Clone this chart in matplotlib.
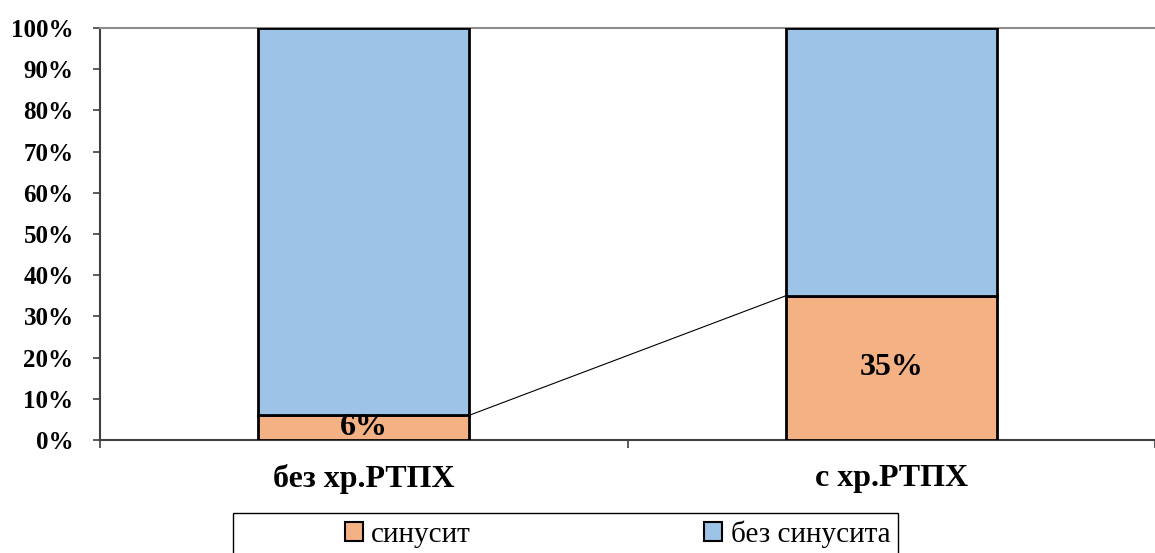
import matplotlib
matplotlib.use("Agg")
import matplotlib.pyplot as plt
from matplotlib.patches import Patch, Rectangle

categories = ["без хр.РТПХ", "с хр.РТПХ"]
series_names = ["синусит", "без синусита"]
sinusitis = [6, 35]
no_sinusitis = [94, 65]
y_tick_labels = ["0%", "10%", "20%", "30%", "40%", "50%", "60%", "70%", "80%", "90%", "100%"]

colors = ["#F4B183", "#9DC3E6"]
serif = "Liberation Serif"

W, H = 1155, 553
fig = plt.figure(figsize=(W / 100, H / 100), dpi=100)
ax = fig.add_axes([100 / W, 113 / H, 1055 / W, 412 / H])

x = list(range(len(categories)))
width = 0.4
ax.bar(x, sinusitis, width, color=colors[0], edgecolor="black", linewidth=2, zorder=3)
ax.bar(x, no_sinusitis, width, bottom=sinusitis, color=colors[1], edgecolor="black",
       linewidth=2, zorder=3)

# series line joining the tops of the lower segments
ax.plot([x[0] + width / 2, x[1] - width / 2], [sinusitis[0], sinusitis[1]],
        color="black", linewidth=0.8, zorder=2)

for xi, v in zip(x, sinusitis):
    ax.text(xi, v / 2, f"{v}%", ha="center", va="center", fontsize=23,
            fontweight="bold", family=serif, zorder=4, clip_on=True)

ax.set_xlim(-0.5, -0.5 + 1055 / 533)
ax.set_ylim(0, 100)

ax.set_yticks(range(0, 101, 10))
ax.set_yticklabels(y_tick_labels, fontsize=18, fontweight="bold", family=serif)
ax.tick_params(axis="y", direction="out", length=5, width=1.2, color="#404040", pad=14)

ax.set_xticks([-0.5, 0.5, 1.5])
ax.set_xticklabels([])
ax.tick_params(axis="x", which="major", direction="out", length=6, width=1.2, color="#404040")
ax.set_xticks(x, minor=True)
ax.set_xticklabels(categories, minor=True, fontsize=23, fontweight="bold", family=serif)
ax.tick_params(axis="x", which="minor", length=0, pad=17)

for side in ["left", "bottom"]:
    ax.spines[side].set_color("#404040")
    ax.spines[side].set_linewidth(1.5)
ax.spines["top"].set_color("#8c8c8c")
ax.spines["top"].set_linewidth(1.5)
ax.spines["right"].set_visible(False)

# legend frame
fig.patches.append(Rectangle((233 / W, -0.05), (898 - 233) / W, 0.05 + 1 - 513 / H,
                             transform=fig.transFigure, facecolor="white",
                             edgecolor="black", linewidth=1.0, zorder=1))

handles = [Patch(facecolor=c, edgecolor="black", linewidth=1.5) for c in colors]
leg = fig.legend(handles, series_names, loc="center left",
                 bbox_to_anchor=(345 / W, 1 - 534 / H),
                 ncol=2, frameon=False,
                 prop={"family": serif, "size": 21}, handlelength=0.6, handleheight=0.6,
                 handletextpad=0.3, columnspacing=8.0, borderpad=0, borderaxespad=0)

fig.savefig("out.png", dpi=100)
